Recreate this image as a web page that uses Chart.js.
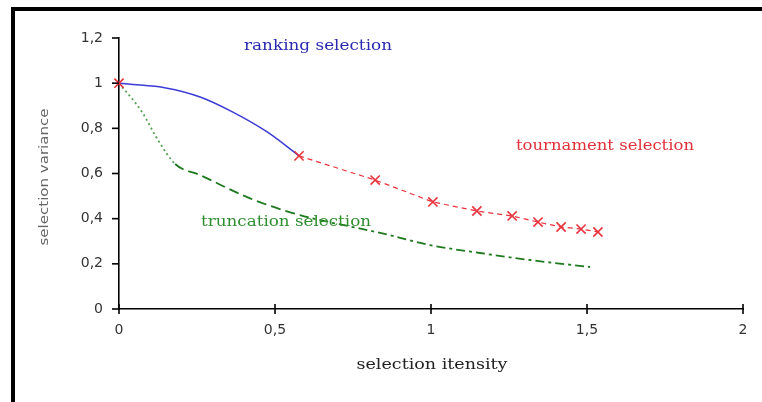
<!DOCTYPE html>
<html><head><meta charset="utf-8">
<script src="https://cdn.jsdelivr.net/npm/chart.js@4/dist/chart.umd.min.js"></script>
<style>html,body{margin:0;padding:0;background:#fff;}#wrap{width:762px;height:402px;position:relative;}</style>
</head><body><div id="wrap"><canvas id="c" width="762" height="402"></canvas></div>
<script>
const xTicks = [0, 0.5, 1, 1.5, 2];
const yTicks = [0, 0.2, 0.4, 0.6, 0.8, 1, 1.2];
const rankX = [0, 0.03, 0.15, 0.26, 0.365, 0.475, 0.577];
const rankY = [1.0, 0.996, 0.979, 0.939, 0.872, 0.784, 0.678];
const tourX = [0, 0.577, 0.821, 1.006, 1.147, 1.26, 1.343, 1.417, 1.481, 1.535];
const tourY = [1.0, 0.678, 0.571, 0.474, 0.434, 0.412, 0.385, 0.363, 0.354, 0.341];
const truncX = [0, 0.074, 0.125, 0.18, 0.26, 0.42, 0.58, 0.837, 0.997, 1.157, 1.317, 1.51];
const truncY = [1.0, 0.872, 0.748, 0.642, 0.593, 0.49, 0.416, 0.337, 0.283, 0.248, 0.217, 0.186];
const seriesNames = ['ranking selection', 'tournament selection', 'truncation selection'];
const xTitle = 'selection itensity';
const yTitle = 'selection variance';

const fmt = v => String(v).replace('.', ',');
const pts = (xs, ys) => xs.map((x, i) => ({x, y: ys[i]}));

const BLUE = '#3b3bd6', RED = '#e8323c', GREEN = '#1f7a1f';

function fitText(ctx, text, cx, cy, targetW, font, color, rot) {
  ctx.save();
  ctx.font = font; ctx.fillStyle = color;
  ctx.textAlign = 'center'; ctx.textBaseline = 'middle';
  const w = ctx.measureText(text).width;
  ctx.translate(cx, cy);
  if (rot) ctx.rotate(rot);
  ctx.scale(targetW / w, 1);
  ctx.fillText(text, 0, 0);
  ctx.restore();
}

const decor = {
  id: 'decor',
  beforeDraw(chart) {
    const ctx = chart.ctx;
    ctx.save(); ctx.fillStyle = '#fff'; ctx.fillRect(0, 0, chart.width, chart.height); ctx.restore();
  },
  afterDraw(chart) {
    const ctx = chart.ctx, xs = chart.scales.x, ys = chart.scales.y;
    ctx.save();
    ctx.fillStyle = '#000';
    ctx.fillRect(11, 7, 751, 4);
    ctx.fillRect(11, 7, 4, 395);
    ctx.strokeStyle = '#000'; ctx.lineWidth = 1.6;
    const y0 = ys.getPixelForValue(0), x0 = xs.getPixelForValue(0);
    xTicks.forEach(v => { const p = xs.getPixelForValue(v); ctx.beginPath(); ctx.moveTo(p, y0 - 5); ctx.lineTo(p, y0 + 5); ctx.stroke(); });
    yTicks.forEach(v => { const p = ys.getPixelForValue(v); ctx.beginPath(); ctx.moveTo(x0 - 7, p); ctx.lineTo(x0, p); ctx.stroke(); });
    ctx.restore();
    fitText(ctx, seriesNames[0], 318, 46, 148, '14px "DejaVu Serif"', '#2a2ab0');
    fitText(ctx, seriesNames[1], 605, 146, 178, '14px "DejaVu Serif"', '#e0303a');
    fitText(ctx, seriesNames[2], 286, 222, 170, '14px "DejaVu Serif"', '#2f8f2f');
    fitText(ctx, xTitle, 432, 365, 151, '14px "DejaVu Serif"', '#222');
    fitText(ctx, yTitle, 45, 177, 137, '13px "DejaVu Sans"', '#666', -Math.PI / 2);
  }
};

new Chart(document.getElementById('c'), {
  type: 'scatter',
  data: {
    datasets: [
      {
        label: seriesNames[0], data: pts(rankX, rankY), showLine: true,
        borderColor: BLUE, borderWidth: 1.5, pointRadius: 0, cubicInterpolationMode: 'monotone', clip: false, order: 2
      },
      {
        label: seriesNames[2], data: pts(truncX, truncY), showLine: true,
        borderColor: GREEN, borderWidth: 1.8, pointRadius: 0, cubicInterpolationMode: 'monotone', clip: false, order: 3,
        segment: {
          borderDash: c => c.p0DataIndex < 3 ? [2, 3] : (c.p0DataIndex < 6 ? [10, 5] : [9, 4, 3, 4]),
          borderColor: c => c.p0DataIndex < 3 ? '#5aa05a' : GREEN
        }
      },
      {
        label: seriesNames[1], data: pts(tourX, tourY), showLine: true,
        borderColor: RED, borderWidth: 1.2, borderDash: [5, 4],
        pointStyle: 'crossRot', pointRadius: 6.5, pointBorderWidth: 1.6, pointBorderColor: RED, pointBackgroundColor: RED,
        clip: false, order: 1,
        segment: { borderColor: c => c.p0DataIndex === 0 ? 'rgba(0,0,0,0)' : RED }
      }
    ]
  },
  options: {
    responsive: false, animation: false, devicePixelRatio: 1,
    layout: { padding: { left: 0, top: 38, right: 19, bottom: 0 } },
    plugins: { legend: { display: false }, tooltip: { enabled: false } },
    scales: {
      x: {
        type: 'linear', min: 0, max: 2,
        afterBuildTicks: s => { s.ticks = xTicks.map(v => ({value: v})); },
        afterFit: s => { s.height = 93; },
        grid: { display: false },
        border: { display: true, color: '#000', width: 1.6 },
        ticks: { padding: 5, color: '#333', font: { family: 'DejaVu Sans', size: 14 }, callback: v => fmt(v), maxRotation: 0 }
      },
      y: {
        type: 'linear', min: 0, max: 1.2,
        afterBuildTicks: s => { s.ticks = yTicks.map(v => ({value: v})); },
        afterFit: s => { s.width = 119; },
        grid: { display: false },
        border: { display: true, color: '#000', width: 1.6 },
        ticks: { padding: 8, color: '#333', font: { family: 'DejaVu Sans', size: 14 }, callback: v => fmt(Math.round(v * 10) / 10) }
      }
    }
  },
  plugins: [decor]
});
</script>
</body></html>
